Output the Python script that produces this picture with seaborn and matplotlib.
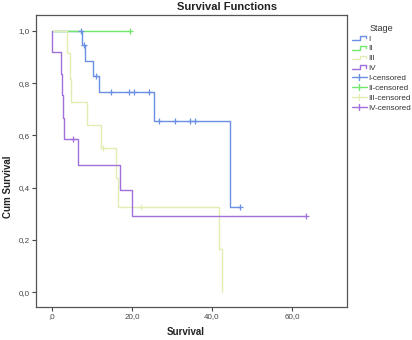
import numpy as np
import pandas as pd
import seaborn as sns
import matplotlib
matplotlib.use("Agg")
import matplotlib.pyplot as plt
from matplotlib.legend_handler import HandlerBase
from matplotlib.lines import Line2D

# ---- data ----
stages = ["I", "II", "III", "IV"]
colors = ["#6a8fe4", "#72e86c", "#e2edb4", "#a070dc"]

I_t = [0, 7.4, 8.25, 10.3, 11.8, 25.6, 44.5, 47.0]
I_s = [1.0, 0.946, 0.886, 0.828, 0.765, 0.656, 0.327, 0.327]
I_ct = [7.25, 8.1, 10.9, 14.75, 19.25, 20.5, 24.25, 26.8, 30.75, 34.5, 35.75, 47.0]
I_cs = [1.0, 0.946, 0.828, 0.765, 0.765, 0.765, 0.765, 0.656, 0.656, 0.656, 0.656, 0.327]

II_t = [0, 19.5]
II_s = [1.0, 1.0]
II_ct = [19.5]
II_cs = [1.0]

III_t = [0, 3.7, 4.5, 4.75, 8.7, 12.25, 16.0, 16.4, 41.75, 42.4]
III_s = [1.0, 0.914, 0.816, 0.729, 0.638, 0.55, 0.437, 0.327, 0.165, 0.0]
III_ct = [12.75, 22.25]
III_cs = [0.55, 0.327]

IV_t = [0, 0, 2.2, 2.6, 2.85, 3.1, 6.4, 17.1, 19.9, 63.5]
IV_s = [1.0, 0.918, 0.835, 0.755, 0.665, 0.586, 0.487, 0.39, 0.292, 0.292]
IV_ct = [5.3, 63.5]
IV_cs = [0.586, 0.292]

x_ticks = [0, 20, 40, 60]
x_ticklabels = [",0", "20,0", "40,0", "60,0"]
y_ticks = [0.0, 0.2, 0.4, 0.6, 0.8, 1.0]
y_ticklabels = ["0,0", "0,2", "0,4", "0,6", "0,8", "1,0"]

curves = [(I_t, I_s, I_ct, I_cs), (II_t, II_s, II_ct, II_cs),
          (III_t, III_s, III_ct, III_cs), (IV_t, IV_s, IV_ct, IV_cs)]

sns.set_style("white")
plt.rcParams["font.family"] = ["Liberation Sans", "DejaVu Sans"]

fig = plt.figure(figsize=(4.12, 3.40), dpi=100)
ax = fig.add_axes([36 / 412, 1 - 307 / 340, (347 - 36) / 412, (307 - 15) / 340])

for name, col, (t, s, ct, cs) in zip(stages, colors, curves):
    df = pd.DataFrame({"t": t, "s": s})
    sns.lineplot(data=df, x="t", y="s", ax=ax, color=col, lw=1.0,
                 drawstyle="steps-post", sort=False, estimator=None)
    dfc = pd.DataFrame({"t": ct, "s": cs})
    sns.scatterplot(data=dfc, x="t", y="s", ax=ax, color=col, marker="+",
                    s=16, linewidth=0.9, zorder=5)

ax.set_xlim(-4, 73.75)
ax.set_ylim(-0.057, 1.061)
ax.set_xticks(x_ticks)
ax.set_xticklabels(x_ticklabels)
ax.set_yticks(y_ticks)
ax.set_yticklabels(y_ticklabels)
ax.tick_params(axis="both", which="major", labelsize=5.8, colors="#444444",
               length=3, width=0.8, direction="out", pad=1.5, left=True, bottom=True)
for sp in ax.spines.values():
    sp.set_color("#555555")
    sp.set_linewidth(0.9)
ax.set_xlabel("")
ax.set_ylabel("")

fig.text(227 / 412, 1 - 7.5 / 340, "Survival Functions", ha="center", va="center",
         fontsize=8, fontweight="bold", color="#222222")
fig.text(186 / 412, 1 - 332 / 340, "Survival", ha="center", va="center",
         fontsize=7, fontweight="bold", color="#222222")
fig.text(8 / 412, 1 - 187 / 340, "Cum Survival", ha="center", va="center",
         rotation=90, fontsize=7, fontweight="bold", color="#222222")


class StepHandler(HandlerBase):
    def create_artists(self, legend, orig_handle, xdescent, ydescent, width,
                       height, fontsize, trans):
        x0, w, h = -xdescent, width, height
        y0 = -ydescent
        xs = [x0, x0 + w * 0.55, x0 + w * 0.55, x0 + w * 0.95, x0 + w * 0.95]
        ys = [y0 + h * 0.15, y0 + h * 0.15, y0 + h * 0.85, y0 + h * 0.85, y0 + h * 0.4]
        ln = Line2D(xs, ys, color=orig_handle.get_color(), lw=1.0, transform=trans)
        return [ln]


class CensorHandler(HandlerBase):
    def create_artists(self, legend, orig_handle, xdescent, ydescent, width,
                       height, fontsize, trans):
        x0, w, h = -xdescent, width, height
        y0 = -ydescent
        col = orig_handle.get_color()
        l1 = Line2D([x0, x0 + w], [y0 + h / 2, y0 + h / 2], color=col, lw=1.0, transform=trans)
        l2 = Line2D([x0 + w / 2, x0 + w / 2], [y0, y0 + h], color=col, lw=1.0, transform=trans)
        return [l1, l2]


class StepLine(Line2D):
    pass


class CensLine(Line2D):
    pass


handles = [StepLine([], [], color=c) for c in colors] + [CensLine([], [], color=c) for c in colors]
labels = stages + [f"{s}-censored" for s in stages]
leg = fig.legend(handles, labels, loc="upper left", bbox_to_anchor=(346 / 412, 1 - 18 / 340),
                 title="Stage", frameon=False, fontsize=5.8, title_fontsize=6.5,
                 handlelength=1.9, handletextpad=0.15, labelspacing=0.28,
                 borderpad=0.2, handler_map={StepLine: StepHandler(), CensLine: CensorHandler()})
leg.get_title().set_color("#333333")
for txt in leg.get_texts():
    txt.set_color("#333333")

fig.savefig("out.png", dpi=100)
